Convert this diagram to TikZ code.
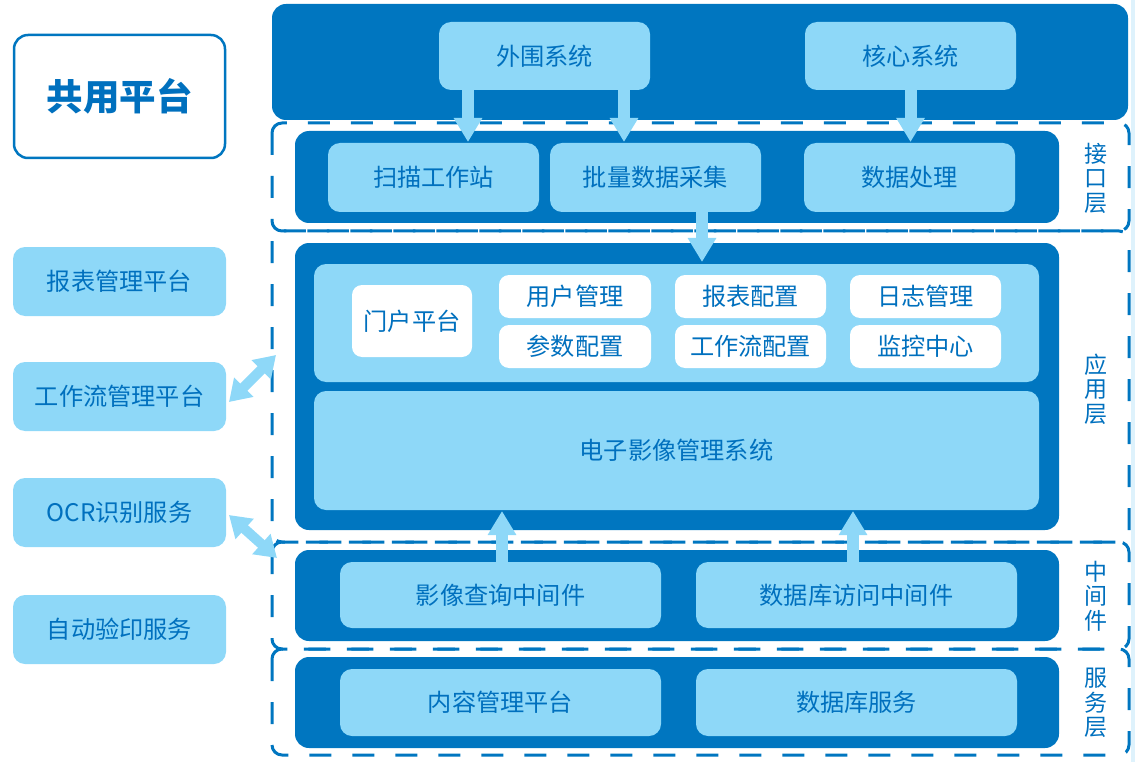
\documentclass[tikz,border=0pt]{standalone}
\usepackage{fontspec}
\setmainfont{Noto Sans CJK SC}
\usetikzlibrary{arrows.meta}
\definecolor{dk}{RGB}{0,118,192}
\definecolor{lt}{RGB}{142,216,248}
\definecolor{tx}{RGB}{0,112,190}
\definecolor{pale}{RGB}{222,242,252}
\newcommand\BX[7]{\node[#1,minimum width={(#4-#2)*1pt},minimum height={(#5-#3)*1pt}] (#6) at ({(#2+#4)/2},{(#3+#5)/2}) {#7};}
\tikzset{
  base/.style={inner sep=0pt,outer sep=0pt,text=tx,font=\fontsize{24.2}{26}\selectfont},
  dbox/.style={base,fill=dk,rounded corners=14pt},
  lbox/.style={base,fill=lt,rounded corners=12pt},
  wbox/.style={base,fill=white,rounded corners=10pt},
  titlebox/.style={base,fill=white,draw=dk,line width=2.5pt,rounded corners=14pt,font=\fontsize{36.5}{38}\selectfont\bfseries},
  layer/.style={draw=dk,line width=3pt,dash pattern=on 22pt off 21pt,rounded corners=10pt},
  vlab/.style={base,align=center,font=\fontsize{23}{24.5}\selectfont},
  bigarrow/.style={draw=lt,line width=12pt,-{Triangle[width=27pt,length=24pt]}},
  dblarrow/.style={draw=lt,line width=10pt,{Triangle[width=26pt,length=21pt]}-{Triangle[width=26pt,length=21pt]}},
}
\begin{document}
\begin{tikzpicture}[x=1pt,y=-1pt]
\useasboundingbox (0,0) rectangle (1135,762);
\fill[pale] (1131,0) rectangle (1135,762);
% layer outlines
\draw[layer] (272,123) rectangle (1129,231);
\draw[layer] (272,231) rectangle (1129,542);
\draw[layer] (272,542) rectangle (1129,649);
\draw[layer] (272,649) rectangle (1129,755);
% left column
\BX{titlebox}{14}{35}{225}{158}{gy}{共用平台}
\BX{lbox}{13}{247}{226}{316}{lc1}{报表管理平台}
\BX{lbox}{13}{362}{226}{431}{lc2}{工作流管理平台}
\BX{lbox}{13}{478}{226}{547}{lc3}{OCR识别服务}
\BX{lbox}{13}{595}{226}{664}{lc4}{自动验印服务}
% top
\BX{dbox}{272}{4}{1128}{120}{top}{}
\BX{lbox}{439}{22}{650}{90}{ww}{外围系统}
\BX{lbox}{805}{22}{1016}{90}{hx}{核心系统}
% interface layer
\BX{dbox}{295}{131}{1059}{223}{jk}{}
\BX{lbox}{328}{143}{539}{212}{sm}{扫描工作站}
\BX{lbox}{550}{143}{761}{212}{pl}{批量数据采集}
\BX{lbox}{804}{143}{1015}{212}{sj}{数据处理}
% app layer
\BX{dbox}{295}{243}{1059}{530}{yy}{}
\BX{lbox}{314}{264}{1039}{382}{yyin}{}
\BX{wbox}{352}{285}{472}{357}{mh}{门户平台}
\BX{wbox}{499}{275}{651}{318}{yh}{用户管理}
\BX{wbox}{499}{325}{651}{368}{cs}{参数配置}
\BX{wbox}{675}{275}{826}{318}{bb}{报表配置}
\BX{wbox}{675}{325}{826}{368}{gzl}{工作流配置}
\BX{wbox}{850}{275}{1001}{318}{rz}{日志管理}
\BX{wbox}{850}{325}{1001}{368}{jkzx}{监控中心}
\BX{lbox}{314}{391}{1039}{510}{dz}{电子影像管理系统}
% middleware
\BX{dbox}{295}{550}{1059}{641}{zj}{}
\BX{lbox}{340}{562}{661}{628}{yxcx}{影像查询中间件}
\BX{lbox}{696}{562}{1017}{628}{sjkfw}{数据库访问中间件}
% service
\BX{dbox}{295}{657}{1059}{748}{fw}{}
\BX{lbox}{340}{669}{661}{736}{nr}{内容管理平台}
\BX{lbox}{696}{669}{1017}{736}{sjkfu}{数据库服务}
% vertical labels
\node[vlab] (v1) at (1096,178) {接\\口\\层};
\node[vlab] (v2) at (1096,389) {应\\用\\层};
\node[vlab] (v3) at (1096,596) {中\\间\\件};
\node[vlab] (v4) at (1096,703) {服\\务\\层};
% arrows
\draw[bigarrow] ([xshift=-76.5pt]ww.south) -- ([xshift=-76.5pt,yshift=1pt]ww.south |- sm.north);
\draw[bigarrow] ([xshift=79.5pt]ww.south) -- ([xshift=79.5pt,yshift=1pt]ww.south |- pl.north);
\draw[bigarrow] (hx.south) -- ([yshift=1pt]hx.south |- sj.north);
\draw[bigarrow] ([xshift=46.5pt]pl.south) -- ([xshift=46.5pt,yshift=2pt]pl.south |- yyin.north);
\draw[bigarrow] ([xshift=1.5pt]yxcx.north) -- ([xshift=1.5pt,yshift=-1pt]yxcx.north |- dz.south);
\draw[bigarrow] ([xshift=-3.5pt]sjkfw.north) -- ([xshift=-3.5pt,yshift=-1pt]sjkfw.north |- dz.south);
\coordinate (e1) at (276,355);
\coordinate (e2) at (277,558);
\draw[dblarrow] ([xshift=3pt,yshift=-5.5pt]lc2.east) -- (e1);
\draw[dblarrow] ([xshift=3pt,yshift=-2.5pt]lc3.east) -- (e2);
\end{tikzpicture}
\end{document}
